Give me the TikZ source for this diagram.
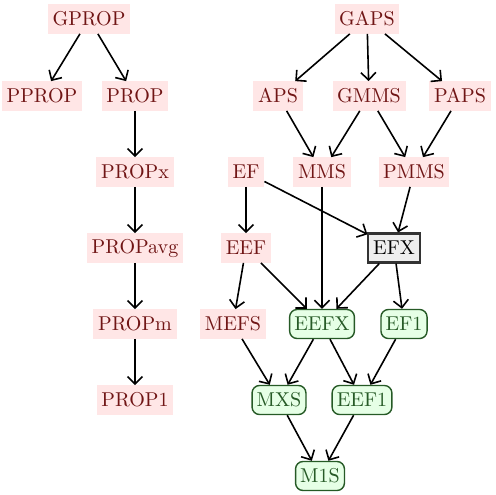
\documentclass[tikz,border=0pt]{standalone}
\usetikzlibrary{arrows.meta}
\definecolor{pinkfill}{HTML}{FFE6E6}
\definecolor{pinktext}{HTML}{701515}
\definecolor{greenfill}{HTML}{E6FFE6}
\definecolor{greendraw}{HTML}{265A26}
\definecolor{greytext}{HTML}{333333}
\definecolor{greyfill}{HTML}{EEEEEE}
\begin{document}
\begin{tikzpicture}[x=0.01877cm,y=-0.01877cm,
  base/.style={minimum height=15.5pt,inner xsep=2.5pt,inner ysep=2pt,font=\fontsize{10.7}{12}\selectfont},
  pnode/.style={base,fill=pinkfill,text=pinktext},
  gnode/.style={base,fill=greenfill,draw=greendraw,text=greendraw,rounded corners=4pt,line width=0.75pt},
  xnode/.style={base,fill=greyfill,draw=greytext,text=black,line width=1.1pt},
  arr/.style={line width=0.85pt,-{Straight Barb[length=4pt,width=8pt]}}]
\useasboundingbox (0,0) rectangle (496,494);
\node[pnode] (GPROP) at (89,19) {GPROP};
\node[pnode] (PPROP) at (42,96) {PPROP};
\node[pnode] (PROP) at (135,96) {PROP};
\node[pnode] (PROPx) at (135,172) {PROPx};
\node[pnode] (PROPavg) at (135,248) {PROPavg};
\node[pnode] (PROPm) at (135,324) {PROPm};
\node[pnode] (PROP1) at (135,400) {PROP1};
\node[pnode] (GAPS) at (367,19) {GAPS};
\node[pnode] (APS) at (278,96) {APS};
\node[pnode] (GMMS) at (369,96) {GMMS};
\node[pnode] (PAPS) at (460,96) {PAPS};
\node[pnode] (EF) at (246,172) {EF};
\node[pnode] (MMS) at (322,172) {MMS};
\node[pnode] (PMMS) at (414,172) {PMMS};
\node[pnode] (EEF) at (246,248) {EEF};
\node[xnode] (EFX) at (394,248) {EFX};
\node[pnode] (MEFS) at (233,324) {MEFS};
\node[gnode] (EEFX) at (322,324) {EEFX};
\node[gnode] (EF1) at (404,324) {EF1};
\node[gnode] (MXS) at (279,400) {MXS};
\node[gnode] (EEF1) at (362,400) {EEF1};
\node[gnode] (M1S) at (320,476) {M1S};
\draw[arr] (GPROP) -- (PPROP);
\draw[arr] (GPROP) -- (PROP);
\draw[arr] (PROP) -- (PROPx);
\draw[arr] (PROPx) -- (PROPavg);
\draw[arr] (PROPavg) -- (PROPm);
\draw[arr] (PROPm) -- (PROP1);
\draw[arr] (GAPS) -- (APS);
\draw[arr] (GAPS) -- (GMMS);
\draw[arr] (GAPS) -- (PAPS);
\draw[arr] (APS) -- (MMS);
\draw[arr] (GMMS) -- (MMS);
\draw[arr] (GMMS) -- (PMMS);
\draw[arr] (PAPS) -- (PMMS);
\draw[arr] (EF) -- (EEF);
\draw[arr] (EF) -- (EFX);
\draw[arr] (PMMS) -- (EFX);
\draw[arr] (MMS) -- (EEFX);
\draw[arr] (EEF) -- (MEFS);
\draw[arr] (EEF) -- (EEFX);
\draw[arr] (EFX) -- (EEFX);
\draw[arr] (EFX) -- (EF1);
\draw[arr] (MEFS) -- (MXS);
\draw[arr] (EEFX) -- (MXS);
\draw[arr] (EEFX) -- (EEF1);
\draw[arr] (EF1) -- (EEF1);
\draw[arr] (MXS) -- (M1S);
\draw[arr] (EEF1) -- (M1S);
\end{tikzpicture}
\end{document}
